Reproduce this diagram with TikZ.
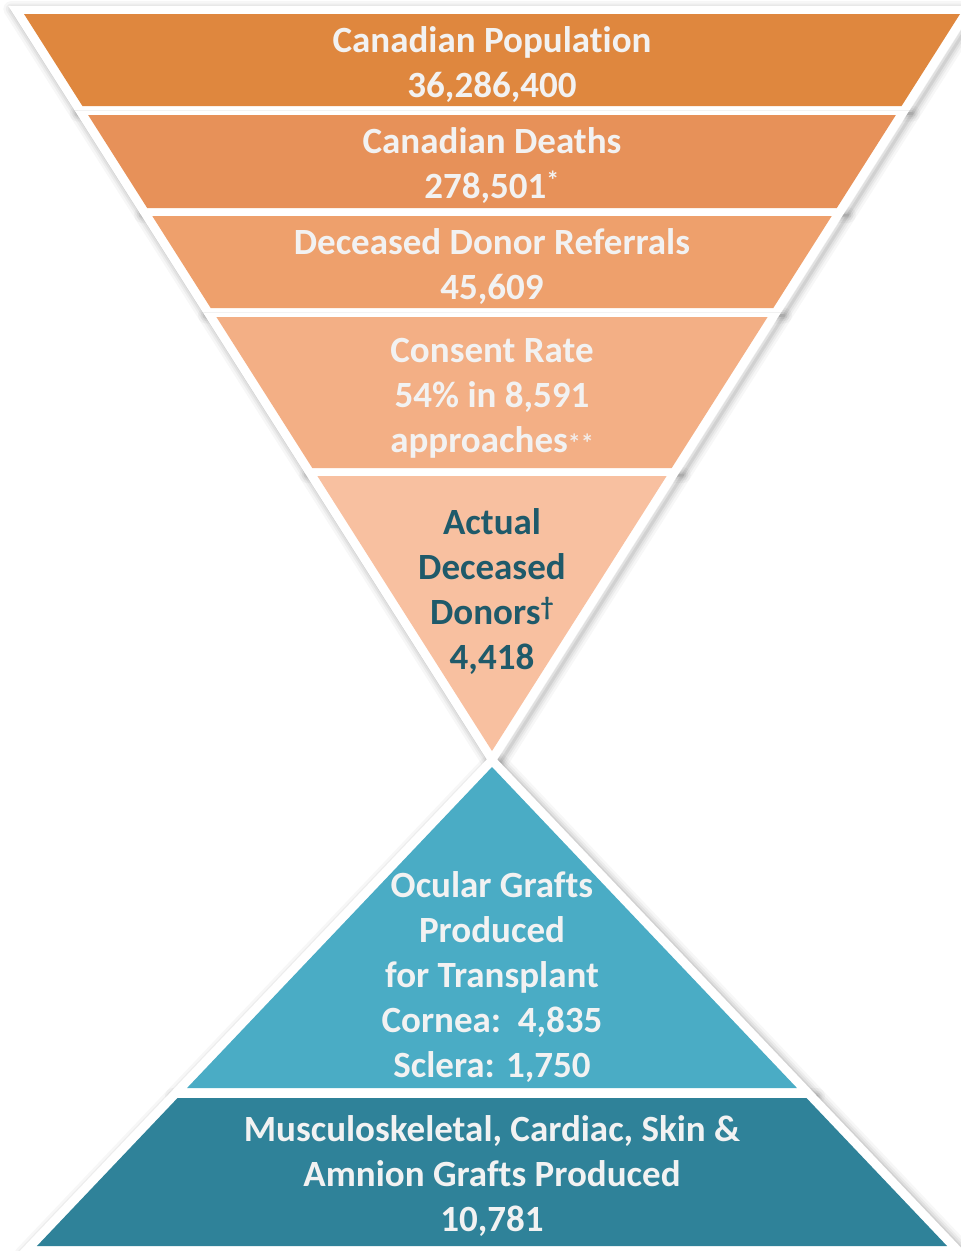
\documentclass[tikz,border=0pt]{standalone}
\usepackage{fontspec}
\setmainfont{Carlito}[Ligatures=NoCommon]
\definecolor{bandA}{HTML}{DF873E}
\definecolor{bandB}{HTML}{E79159}
\definecolor{bandC}{HTML}{EEA06C}
\definecolor{bandD}{HTML}{F3AF85}
\definecolor{bandE}{HTML}{F8C0A0}
\definecolor{bandF}{HTML}{4AACC5}
\definecolor{bandG}{HTML}{2F8299}
\definecolor{txtlight}{HTML}{F2F2F2}
\definecolor{txtdark}{HTML}{1F5A6A}
% inverted band: top, bottom, extra half-width, style
\newcommand\invband[4]{\path[#4] ({492-0.635*(751-(#1))-(#3)},#1) -- ({492+0.635*(751-(#1))+(#3)},#1) -- ({492+0.635*(751-(#2))+(#3)},#2) -- ({492-0.635*(751-(#2))-(#3)},#2) -- cycle;}
% upright band: top, bottom, extra half-width, style
\newcommand\upband[4]{\path[#4] ({492-0.95*((#1)-767)-(#3)},#1) -- ({492+0.95*((#1)-767)+(#3)},#1) -- ({492+0.95*((#2)-767)+(#3)},#2) -- ({492-0.95*((#2)-767)-(#3)},#2) -- cycle;}
\newcommand\glowinv[2]{\foreach \w/\o in {16/0.03,11/0.04,7/0.05,3/0.07}{\invband{#1}{#2}{10.6}{draw=black, line width=\w, draw opacity=\o, line join=round, xshift=3, yshift=-3}}}
\newcommand\glowup[2]{\foreach \w/\o in {16/0.03,11/0.04,7/0.05,3/0.07}{\upband{#1}{#2}{12.4}{draw=black, line width=\w, draw opacity=\o, line join=round, xshift=3, yshift=-3}}}
\tikzset{
  lbl/.style={text=txtlight, font=\fontsize{37}{45}\selectfont\bfseries, align=center, inner sep=0pt},
  lbldark/.style={lbl, text=txtdark},
  whiteshape/.style={fill=white},
}
\begin{document}
\begin{tikzpicture}[x=1pt, y=-1pt]
\useasboundingbox (0,0) rectangle (961,1251);
% shadows
\glowinv{6}{110.5}
\glowinv{110.5}{212}
\glowinv{212}{312.5}
\glowinv{312.5}{472}
\glowinv{472}{767.7}
\glowup{754}{1093}
\glowup{1093}{1252}
% white borders
\invband{6}{110.5}{10.6}{whiteshape}
\invband{110.5}{212}{10.6}{whiteshape}
\invband{212}{312.5}{10.6}{whiteshape}
\invband{312.5}{472}{10.6}{whiteshape}
\invband{472}{767.7}{10.6}{whiteshape}
\upband{754}{1093}{12.4}{whiteshape}
\upband{1093}{1252}{12.4}{whiteshape}
% band fills
\invband{14}{106}{0}{fill=bandA}
\invband{115}{208}{0}{fill=bandB}
\invband{216}{308}{0}{fill=bandC}
\invband{317}{468}{0}{fill=bandD}
\invband{476}{751}{0}{fill=bandE}
\upband{767}{1088}{0}{fill=bandF}
\upband{1098}{1246}{0}{fill=bandG}
% labels
\node[lbl] (pop) at (492,65) {Canadian Population\\36,286,400};
\node[lbl] (deaths) at (492,166) {Canadian Deaths\\278,501\textsuperscript{*}};
\node[lbl] (referrals) at (492,267) {Deceased Donor Referrals\\45,609};
\node[lbl] (consent) at (492,398) {Consent Rate\\54\% in 8,591\\approaches{\fontsize{26}{26}\selectfont\color{txtlight!90!bandD}**}};
\node[lbldark] (donors) at (492,592) {Actual\\Deceased\\Donors\textsuperscript{†}\\4,418};
\node[lbl] (ocular) at (492,977) {Ocular Grafts\\Produced\\for Transplant\\Cornea:\ \ 4,835\\Sclera: 1,750};
\node[lbl] (msk) at (492,1176) {Musculoskeletal, Cardiac, Skin \&\\Amnion Grafts Produced\\10,781};
\end{tikzpicture}
\end{document}
